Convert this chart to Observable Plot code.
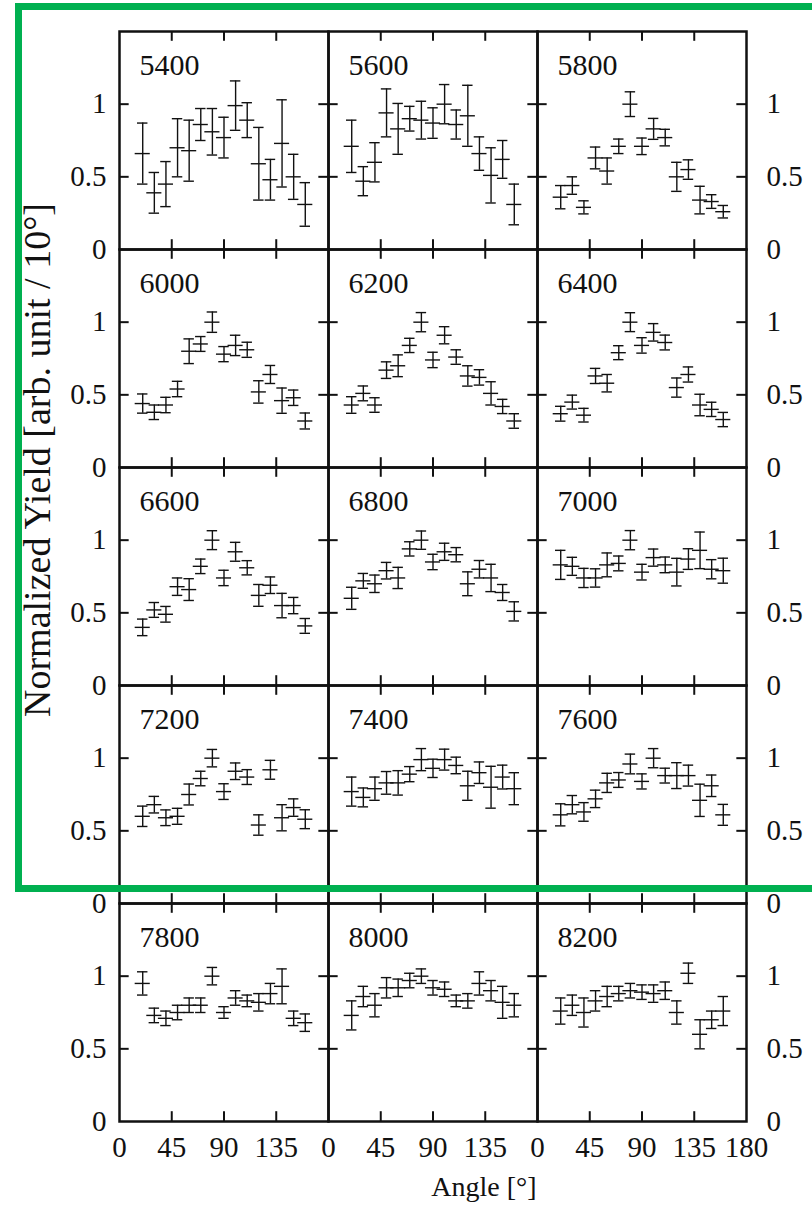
<!DOCTYPE html>
<html><head><meta charset="utf-8">
<script src="https://cdn.jsdelivr.net/npm/d3@7"></script>
<script src="https://cdn.jsdelivr.net/npm/@observablehq/plot@0.6"></script>
<style>
html,body{margin:0;padding:0;background:#fff;}
#wrap{position:relative;width:812px;height:1213px;overflow:hidden;}
#green{position:absolute;left:15px;top:3px;width:830px;height:889px;border:7px solid #00b050;box-sizing:border-box;pointer-events:none;}
</style></head><body><div id="wrap"><div id="chart"></div><div id="green"></div></div>
<script>
// ---- data ----
const energies = ["5400","5600","5800","6000","6200","6400","6600","6800","7000","7200","7400","7600","7800","8000","8200"];
const angles = [20,30,40,50,60,70,80,90,100,110,120,130,140,150,160];

const y5400 = [0.66,0.39,0.45,0.70,0.68,0.86,0.81,0.77,0.99,0.89,0.59,0.48,0.73,0.50,0.31];
const e5400 = [0.21,0.14,0.155,0.20,0.21,0.11,0.16,0.14,0.17,0.12,0.25,0.14,0.30,0.155,0.15];
const y5600 = [0.71,0.47,0.60,0.94,0.83,0.90,0.89,0.87,1.00,0.86,0.92,0.66,0.51,0.62,0.31];
const e5600 = [0.18,0.10,0.135,0.165,0.175,0.085,0.13,0.105,0.135,0.10,0.21,0.115,0.19,0.13,0.14];
const y5800 = [0.36,0.44,0.29,0.63,0.54,0.71,1.00,0.71,0.83,0.77,0.50,0.55,0.34,0.33,0.26];
const e5800 = [0.08,0.06,0.045,0.075,0.09,0.05,0.085,0.057,0.072,0.057,0.10,0.067,0.095,0.047,0.043];
const y6000 = [0.44,0.38,0.43,0.54,0.80,0.85,1.00,0.78,0.84,0.81,0.52,0.64,0.46,0.48,0.32];
const e6000 = [0.066,0.05,0.053,0.053,0.085,0.051,0.07,0.052,0.07,0.052,0.077,0.062,0.087,0.053,0.055];
const y6200 = [0.43,0.51,0.43,0.67,0.70,0.84,1.00,0.74,0.91,0.76,0.63,0.62,0.51,0.42,0.32];
const e6200 = [0.057,0.051,0.05,0.057,0.075,0.049,0.066,0.053,0.059,0.05,0.07,0.053,0.08,0.049,0.05];
const y6400 = [0.37,0.45,0.36,0.63,0.58,0.79,1.00,0.84,0.93,0.86,0.55,0.64,0.43,0.40,0.33];
const e6400 = [0.051,0.048,0.047,0.052,0.06,0.048,0.065,0.053,0.06,0.051,0.066,0.052,0.074,0.049,0.049];
const y6600 = [0.40,0.52,0.49,0.68,0.66,0.82,1.00,0.74,0.92,0.81,0.62,0.69,0.55,0.55,0.41];
const e6600 = [0.057,0.051,0.054,0.06,0.075,0.05,0.065,0.053,0.065,0.049,0.075,0.057,0.084,0.056,0.051];
const y6800 = [0.60,0.72,0.70,0.79,0.74,0.94,1.00,0.85,0.92,0.90,0.70,0.80,0.74,0.64,0.51];
const e6800 = [0.076,0.051,0.06,0.057,0.073,0.049,0.063,0.053,0.059,0.049,0.082,0.06,0.094,0.055,0.066];
const y7000 = [0.83,0.82,0.74,0.74,0.83,0.84,1.00,0.78,0.88,0.83,0.78,0.87,0.93,0.80,0.79];
const e7000 = [0.10,0.062,0.066,0.063,0.082,0.051,0.066,0.054,0.059,0.054,0.095,0.071,0.126,0.066,0.086];
const y7200 = [0.60,0.68,0.59,0.60,0.75,0.86,1.00,0.77,0.91,0.87,0.54,0.92,0.59,0.66,0.58];
const e7200 = [0.07,0.057,0.054,0.055,0.072,0.05,0.06,0.054,0.057,0.051,0.07,0.065,0.09,0.06,0.065];
const y7400 = [0.77,0.73,0.79,0.83,0.83,0.89,0.99,0.93,0.99,0.95,0.81,0.90,0.80,0.87,0.79];
const e7400 = [0.10,0.065,0.08,0.078,0.084,0.052,0.076,0.063,0.072,0.057,0.10,0.074,0.144,0.082,0.11];
const y7600 = [0.61,0.68,0.63,0.72,0.83,0.85,0.96,0.84,1.00,0.88,0.88,0.88,0.71,0.81,0.61];
const e7600 = [0.076,0.063,0.064,0.06,0.066,0.051,0.068,0.052,0.066,0.051,0.089,0.072,0.111,0.074,0.072];
const y7800 = [0.95,0.73,0.71,0.75,0.80,0.80,1.00,0.75,0.85,0.83,0.82,0.88,0.93,0.71,0.68];
const e7800 = [0.08,0.05,0.05,0.05,0.05,0.05,0.06,0.04,0.05,0.04,0.06,0.07,0.12,0.05,0.06];
const y8000 = [0.73,0.86,0.80,0.92,0.92,0.97,1.00,0.92,0.91,0.83,0.83,0.95,0.90,0.82,0.80];
const e8000 = [0.10,0.07,0.08,0.07,0.06,0.05,0.05,0.05,0.05,0.04,0.05,0.08,0.07,0.11,0.08];
const y8200 = [0.76,0.80,0.75,0.83,0.86,0.88,0.90,0.89,0.88,0.90,0.75,1.02,0.60,0.70,0.76];
const e8200 = [0.09,0.07,0.10,0.07,0.07,0.05,0.05,0.05,0.06,0.06,0.08,0.07,0.10,0.06,0.10];

const yieldSets = [y5400,y5600,y5800,y6000,y6200,y6400,y6600,y6800,y7000,y7200,y7400,y7600,y7800,y8000,y8200];
const errorSets = [e5400,e5600,e5800,e6000,e6200,e6400,e6600,e6800,e7000,e7200,e7400,e7600,e7800,e8000,e8200];

const innerXTicks = [45,90,135];
const innerYTicks = [0.5,1];
const xTickLabels = [0,45,90,135];
const xEndLabel = [180];
const yTickLabels = [0,0.5,1];
const yTitle = "Normalized Yield [arb. unit / 10°]";
const xTitle = "Angle [°]";

// ---- layout ----
const W = 812, H = 1213;
const mL = 118, mR = 66, mT = 30, mB = 92;
const nCol = 3, nRow = 5;
const fw = (W - mL - mR) / nCol, fh = (H - mT - mB) / nRow;
const tk = 10;
const ink = "#111";
const serif = "'Liberation Serif','Times New Roman',serif";

const rows = [];
energies.forEach((en, i) => angles.forEach((a, j) => rows.push({
  energy: en, col: i % nCol, row: Math.floor(i / nCol), angle: a, y: yieldSets[i][j], err: errorSets[i][j]
})));
const panels = energies.map((en, i) => ({energy: en, col: i % nCol, row: Math.floor(i / nCol)}));
const endLabel = xEndLabel.map(v => ({v, col: nCol - 1, row: nRow - 1}));
const fmt = d => String(d);

const plot = Plot.plot({
  width: W, height: H,
  marginLeft: mL, marginRight: mR, marginTop: mT, marginBottom: mB,
  style: {fontFamily: serif, fontSize: "29px", color: ink, background: "#fff"},
  fx: {domain: d3.range(nCol), padding: 0, axis: null},
  fy: {domain: d3.range(nRow), padding: 0, axis: null},
  x: {domain: [0, 180], label: null},
  y: {domain: [0, 1.5], label: null},
  marks: [
    // error bars
    Plot.ruleX(rows, {fx: "col", fy: "row", x: "angle", y1: d => d.y - d.err, y2: d => d.y + d.err, stroke: ink, strokeWidth: 1.4}),
    Plot.ruleY(rows, {fx: "col", fy: "row", y: "y", x1: d => d.angle - 6.5, x2: d => d.angle + 6.5, stroke: ink, strokeWidth: 1.4}),
    Plot.ruleY(rows, {fx: "col", fy: "row", y: d => d.y - d.err, x1: d => d.angle - 4.5, x2: d => d.angle + 4.5, stroke: ink, strokeWidth: 1.4}),
    Plot.ruleY(rows, {fx: "col", fy: "row", y: d => d.y + d.err, x1: d => d.angle - 4.5, x2: d => d.angle + 4.5, stroke: ink, strokeWidth: 1.4}),
    // inward ticks on all four sides of every panel
    Plot.tickX(innerXTicks, {x: d => d, insetTop: fh - tk, stroke: ink, strokeWidth: 2}),
    Plot.tickX(innerXTicks, {x: d => d, insetBottom: fh - tk, stroke: ink, strokeWidth: 2}),
    Plot.tickY(innerYTicks, {y: d => d, insetRight: fw - tk, stroke: ink, strokeWidth: 2}),
    Plot.tickY(innerYTicks, {y: d => d, insetLeft: fw - tk, stroke: ink, strokeWidth: 2}),
    Plot.frame({stroke: ink, strokeWidth: 2.5}),
    // panel labels
    Plot.text(panels, {fx: "col", fy: "row", text: "energy", frameAnchor: "top-left", textAnchor: "start", lineAnchor: "top", dx: 20, dy: 22, fontSize: 30, fill: ink}),
    // axes labels
    Plot.axisY({anchor: "left", ticks: yTickLabels, tickSize: 0, tickPadding: 13, tickFormat: fmt, fill: ink, label: null}),
    Plot.axisY({anchor: "right", ticks: yTickLabels, tickSize: 0, tickPadding: 20, tickFormat: fmt, fill: ink, label: null}),
    Plot.axisX({anchor: "bottom", ticks: xTickLabels, tickSize: 0, tickPadding: 15, tickFormat: fmt, fill: ink, label: null}),
    Plot.text(endLabel, {fx: "col", fy: "row", x: "v", text: d => fmt(d.v), frameAnchor: "bottom", lineAnchor: "top", dy: 15, fill: ink})
  ]
});

const svg = d3.select(plot);
svg.append("text")
  .attr("transform", `translate(41,460) rotate(-90)`)
  .attr("text-anchor", "middle").attr("dominant-baseline", "middle")
  .attr("fill", ink).style("font-size", "38px")
  .text(yTitle);
svg.append("text")
  .attr("x", 484).attr("y", 1196)
  .attr("text-anchor", "middle")
  .attr("fill", ink).style("font-size", "28px")
  .text(xTitle);

document.getElementById("chart").appendChild(plot);
</script>
</body></html>
